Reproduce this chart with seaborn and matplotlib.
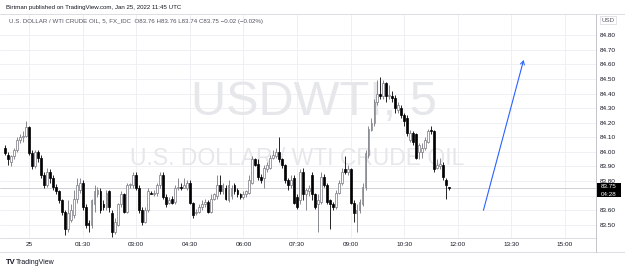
import matplotlib
matplotlib.use("Agg")
import matplotlib.pyplot as plt
from matplotlib.patches import Rectangle, FancyArrowPatch
import seaborn as sns
import numpy as np
import pandas as pd

# ---------------- data (5-minute candles, bar index = minutes since 00:00 / 5) ----------------
bars = list(range(-8, 142))
opens = [84.03, 83.98, 83.93, 83.97, 84.01, 84.08, 84.10, 84.11, 84.17, 83.99,
         83.90, 84.00, 83.96, 83.84, 83.77, 83.86, 83.82, 83.76, 83.73, 83.67,
         83.59, 83.47, 83.53, 83.57, 83.68, 83.74, 83.79, 83.62, 83.51, 83.50,
         83.64, 83.71, 83.73, 83.64, 83.62, 83.73, 83.58, 83.45, 83.50, 83.64,
         83.71, 83.59, 83.77, 83.77, 83.84, 83.75, 83.60, 83.52, 83.60, 83.72,
         83.71, 83.72, 83.77, 83.84, 83.69, 83.65, 83.68, 83.66, 83.75, 83.76,
         83.75, 83.75, 83.79, 83.65, 83.58, 83.59, 83.62, 83.64, 83.66, 83.59,
         83.68, 83.70, 83.77, 83.73, 83.75, 83.67, 83.70, 83.77, 83.74, 83.71,
         83.69, 83.71, 83.72, 83.79, 83.95, 83.92, 83.83, 83.82, 83.88, 83.89,
         83.96, 83.97, 84.00, 83.95, 83.91, 83.81, 83.77, 83.82, 83.69, 83.67,
         83.86, 83.71, 83.73, 83.84, 83.71, 83.64, 83.66, 83.83, 83.77, 83.67,
         83.64, 83.62, 83.72, 83.79, 83.88, 83.86, 83.88, 83.65, 83.58, 83.60,
         83.64, 83.76, 83.98, 84.15, 84.20, 84.34, 84.40, 84.38, 84.47, 84.38,
         84.38, 84.37, 84.29, 84.30, 84.25, 84.23, 84.08, 84.13, 84.12, 84.00,
         84.00, 84.03, 84.07, 84.15, 84.14, 83.89, 83.90, 83.91, 83.81, 83.76]
highs = [84.05, 84.00, 83.98, 84.03, 84.10, 84.12, 84.14, 84.21, 84.18, 84.01,
         84.01, 84.01, 83.98, 83.86, 83.89, 83.88, 83.84, 83.78, 83.74, 83.68,
         83.60, 83.67, 83.64, 83.74, 83.82, 83.82, 83.81, 83.64, 83.53, 83.68,
         83.77, 83.76, 83.75, 83.67, 83.74, 83.74, 83.60, 83.55, 83.65, 83.73,
         83.72, 83.79, 83.79, 83.86, 83.86, 83.77, 83.62, 83.62, 83.75, 83.73,
         83.74, 83.79, 83.86, 83.86, 83.71, 83.69, 83.70, 83.77, 83.82, 83.79,
         83.82, 83.81, 83.81, 83.66, 83.61, 83.64, 83.67, 83.68, 83.67, 83.71,
         83.72, 83.84, 83.84, 83.79, 83.77, 83.81, 83.77, 83.79, 83.75, 83.72,
         83.73, 83.74, 83.84, 83.97, 83.96, 83.95, 83.85, 83.91, 83.93, 83.98,
         84.01, 84.03, 84.10, 83.96, 83.92, 83.82, 83.84, 83.84, 83.71, 83.88,
         83.89, 83.75, 83.77, 83.86, 83.72, 83.71, 83.86, 83.85, 83.79, 83.68,
         83.66, 83.74, 83.81, 83.89, 83.97, 83.91, 83.89, 83.67, 83.64, 83.68,
         83.79, 84.01, 84.18, 84.23, 84.36, 84.49, 84.51, 84.49, 84.48, 84.46,
         84.42, 84.39, 84.34, 84.32, 84.27, 84.25, 84.15, 84.14, 84.13, 84.06,
         84.06, 84.10, 84.16, 84.18, 84.15, 83.95, 83.96, 83.93, 83.82, 83.76]
lows = [83.98, 83.91, 83.90, 83.95, 84.00, 84.06, 84.07, 84.10, 83.98, 83.88,
        83.89, 83.93, 83.82, 83.75, 83.76, 83.79, 83.74, 83.71, 83.65, 83.57,
        83.43, 83.45, 83.52, 83.55, 83.65, 83.72, 83.60, 83.48, 83.45, 83.48,
        83.59, 83.69, 83.58, 83.60, 83.60, 83.59, 83.42, 83.44, 83.49, 83.62,
        83.58, 83.58, 83.75, 83.75, 83.74, 83.58, 83.50, 83.51, 83.59, 83.71,
        83.70, 83.70, 83.75, 83.68, 83.62, 83.64, 83.64, 83.64, 83.74, 83.74,
        83.75, 83.74, 83.64, 83.55, 83.57, 83.58, 83.60, 83.62, 83.58, 83.58,
        83.67, 83.68, 83.71, 83.71, 83.67, 83.66, 83.68, 83.71, 83.69, 83.68,
        83.68, 83.69, 83.71, 83.78, 83.90, 83.81, 83.79, 83.75, 83.86, 83.88,
        83.95, 83.96, 83.93, 83.89, 83.79, 83.74, 83.75, 83.64, 83.61, 83.64,
        83.67, 83.60, 83.70, 83.67, 83.61, 83.45, 83.64, 83.76, 83.64, 83.47,
        83.60, 83.61, 83.71, 83.77, 83.85, 83.84, 83.64, 83.52, 83.45, 83.58,
        83.63, 83.74, 83.96, 84.14, 84.18, 84.32, 84.36, 84.36, 84.34, 84.36,
        84.34, 84.27, 84.27, 84.23, 84.18, 84.11, 84.07, 84.05, 83.95, 83.95,
        83.96, 84.01, 84.06, 84.12, 83.86, 83.88, 83.88, 83.81, 83.68, 83.74]
closes = [83.99, 83.95, 83.97, 84.01, 84.08, 84.10, 84.11, 84.17, 83.99, 83.90,
          84.00, 83.96, 83.84, 83.77, 83.86, 83.82, 83.76, 83.73, 83.67, 83.59,
          83.47, 83.58, 83.60, 83.68, 83.77, 83.79, 83.62, 83.50, 83.50, 83.67,
          83.73, 83.74, 83.60, 83.62, 83.72, 83.62, 83.45, 83.52, 83.64, 83.71,
          83.59, 83.77, 83.78, 83.84, 83.75, 83.60, 83.52, 83.60, 83.73, 83.71,
          83.72, 83.77, 83.84, 83.69, 83.64, 83.67, 83.65, 83.75, 83.76, 83.75,
          83.77, 83.79, 83.65, 83.57, 83.59, 83.62, 83.64, 83.66, 83.59, 83.68,
          83.71, 83.77, 83.73, 83.77, 83.68, 83.77, 83.75, 83.73, 83.71, 83.69,
          83.71, 83.73, 83.81, 83.95, 83.91, 83.83, 83.81, 83.89, 83.91, 83.96,
          83.98, 84.00, 83.95, 83.91, 83.81, 83.77, 83.81, 83.65, 83.62, 83.86,
          83.71, 83.74, 83.75, 83.71, 83.62, 83.67, 83.83, 83.77, 83.66, 83.64,
          83.62, 83.72, 83.79, 83.86, 83.86, 83.88, 83.65, 83.58, 83.60, 83.66,
          83.76, 83.99, 84.16, 84.20, 84.34, 84.40, 84.38, 84.47, 84.38, 84.39,
          84.37, 84.30, 84.32, 84.25, 84.21, 84.13, 84.13, 84.07, 83.96, 84.05,
          84.03, 84.08, 84.14, 84.14, 83.88, 83.91, 83.92, 83.83, 83.77, 83.75]

time_ticks = [0, 18, 36, 54, 72, 90, 108, 126, 144, 162, 180]
time_labels = ["25", "01:30", "03:00", "04:30", "06:00", "07:30", "09:00",
               "10:30", "12:00", "13:30", "15:00"]
price_ticks = [83.5, 83.6, 83.7, 83.8, 83.9, 84.0, 84.1, 84.2, 84.3, 84.4,
               84.5, 84.6, 84.7, 84.8]
price_labels = ["83.50", "83.60", "", "83.80", "83.90", "84.00", "84.10",
                "84.20", "84.30", "84.40", "84.50", "84.60", "84.70", "84.80"]
last_price = 83.75
countdown = "04:28"
arrow_start = (152.6, 83.60)
arrow_end = (166.1, 84.63)

df = pd.DataFrame({"t": bars, "o": opens, "h": highs, "l": lows, "c": closes})

# ---------------- figure ----------------
sns.set_theme(style="white")
plt.rcParams["font.family"] = ["Liberation Sans", "DejaVu Sans"]

W, H = 625, 271
fig = plt.figure(figsize=(W / 100, H / 100), dpi=100)
fig.patch.set_facecolor("white")
ax = fig.add_axes([0, 1 - 238 / H, 596 / W, (238 - 14) / H])
ax.set_facecolor("white")

ax.set_xlim(-9.74, 190.4)
ax.set_ylim(83.41, 84.945)

grid_c = "#eceef3"
for p in price_ticks:
    ax.axhline(p, color=grid_c, lw=0.6, zorder=0)
for t in time_ticks:
    ax.axvline(t, color=grid_c, lw=0.6, zorder=0)

# watermark
ax.text(0.527, 0.605, "USDWTI, 5", transform=ax.transAxes, ha="center", va="center",
        fontsize=35, color="#e6e7ea", zorder=0.5)
ax.text(0.499, 0.355, "U.S. DOLLAR / WTI CRUDE OIL", transform=ax.transAxes,
        ha="center", va="center", fontsize=16.5, color="#e6e7ea", zorder=0.5)

# current price line
ax.axhline(last_price, color="#c8cad0", lw=0.6, zorder=1)

# candles
up = df["c"] >= df["o"]
up_col = "#74777f"
wick_cols = np.where(up, up_col, "#000000")
ax.vlines(df["t"], df["l"], df["h"], colors=wick_cols, lw=0.6, zorder=2)
body_h = np.maximum((df["c"] - df["o"]).abs(), 0.004)
body_b = np.minimum(df["o"], df["c"])
ax.bar(df["t"][up], body_h[up], bottom=body_b[up], width=0.62, color="white",
       edgecolor=up_col, linewidth=0.5, zorder=3)
ax.bar(df["t"][~up], body_h[~up], bottom=body_b[~up], width=0.62, color="black",
       edgecolor="black", linewidth=0.5, zorder=3)

# arrow drawing
arr = FancyArrowPatch(arrow_start, arrow_end, arrowstyle="->,head_length=2.5,head_width=1.4",
                      color="#2962ff", lw=0.8, zorder=4, shrinkA=0, shrinkB=0)
ax.add_patch(arr)

# axes ticks
ax.set_xticks(time_ticks)
ax.set_xticklabels(time_labels)
ax.set_yticks(price_ticks)
ax.set_yticklabels(price_labels)
ax.yaxis.tick_right()
ax.tick_params(axis="both", length=0, labelsize=4.6, colors="#131722")
ax.tick_params(axis="x", pad=3.2)
ax.tick_params(axis="y", pad=3.0)
for s in ax.spines.values():
    s.set_visible(False)

frame_c = "#d6d8de"
fig.add_artist(plt.Line2D([0, 1], [1 - 14 / H, 1 - 14 / H], color=frame_c, lw=0.6))
fig.add_artist(plt.Line2D([0, 596 / W], [1 - 238 / H, 1 - 238 / H], color=frame_c, lw=0.6))
fig.add_artist(plt.Line2D([0, 1], [1 - 252 / H, 1 - 252 / H], color=frame_c, lw=0.6))
fig.add_artist(plt.Line2D([596 / W, 596 / W], [1 - 14 / H, 1 - 252 / H], color="#b8bbc3", lw=0.6))

# header
fig.text(6 / W, 1 - 7 / H, "Birtman published on TradingView.com, Jan 25, 2022 11:45 UTC",
         fontsize=4.4, color="#131722", va="center", ha="left")
fig.text(9 / W, 1 - 22 / H,
         "U.S. DOLLAR / WTI CRUDE OIL, 5, FX_IDC  O83.76 H83.76 L83.74 C83.75 \u22120.02 (\u22120.02%)",
         fontsize=4.4, color="#50535e", va="center", ha="left")

# USD box
fig.text(608 / W, 1 - 20 / H, "USD", fontsize=4.4, color="#50535e", ha="center", va="center",
         bbox=dict(boxstyle="square,pad=0.25", fc="white", ec="#d6d8de", lw=0.5))

# current price box
fig.add_artist(Rectangle((597 / W, 1 - 197 / H), 24 / W, 14 / H, transform=fig.transFigure,
                         facecolor="black", edgecolor="none"))
fig.text(609 / W, 1 - 187 / H, f"{last_price:.2f}", fontsize=4.5, color="white",
         ha="center", va="center")
fig.text(609 / W, 1 - 194 / H, countdown, fontsize=4.5, color="white",
         ha="center", va="center")

# logo
fig.text(6 / W, 1 - 263 / H, "TV", fontsize=5.5, fontweight="bold", color="#131722",
         va="center", ha="left")
fig.text(16 / W, 1 - 263 / H, "TradingView", fontsize=5, color="#131722",
         va="center", ha="left")

fig.savefig("out.png", dpi=100, facecolor="white")
